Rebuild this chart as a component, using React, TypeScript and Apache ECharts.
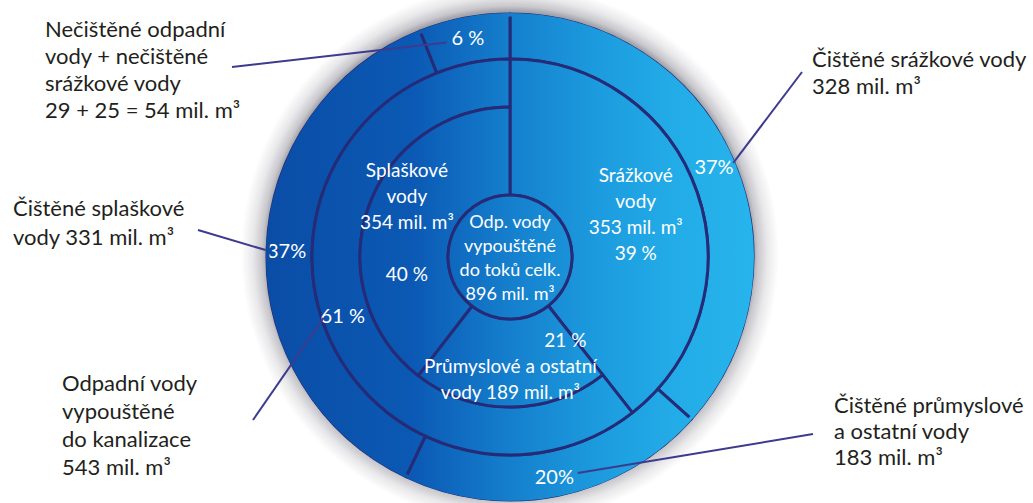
import React, { useEffect, useRef } from "react";
import * as echarts from "echarts";

// ---------------- data ----------------
const totalLabel = ["Odp. vody", "vypouštěné", "do toků celk."];
const totalValue = 896;

const innerNames = ["Srážkové vody", "Průmyslové a ostatní vody", "Splaškové vody"];
const innerValues = [353, 189, 354];
const innerPercents = ["39 %", "21 %", "40 %"];

const sewerName = "Odpadní vody vypouštěné do kanalizace";
const sewerValue = 543;
const sewerPercent = "61 %";

const outerNames = [
  "Čištěné srážkové vody",
  "Čištěné průmyslové a ostatní vody",
  "Čištěné splaškové vody",
  "Nečištěné odpadní vody + nečištěné srážkové vody",
];
const outerValues = [328, 183, 331, 54];
const outerPercents = ["37%", "20%", "37%", "6 %"];

const calloutTexts = [
  "Nečištěné odpadní\nvody + nečištěné\nsrážkové vody\n29 + 25 = 54 mil. m³",
  "Čištěné splaškové\nvody 331 mil. m³",
  "Odpadní vody\nvypouštěné\ndo kanalizace\n543 mil. m³",
  "Čištěné srážkové vody\n328 mil. m³",
  "Čištěné průmyslové\na ostatní vody\n183 mil. m³",
];

// ---------------- layout ----------------
const W = 1033;
const H = 503;
const CX = 510;
const CY = 257;
const R0 = 62;
const R1 = 150;
const R2 = 198;
const R3 = 243;
const NAVY = "#262b78";
const LEADER = "#3d3b8e";
const FONT = "Lato, 'Open Sans', sans-serif";

function midAngle(values: number[], i: number, total: number) {
  let cum = 0;
  for (let k = 0; k < i; k++) cum += values[k];
  return ((cum + values[i] / 2) / total) * 360;
}
function polar(angleDeg: number, r: number) {
  const a = (angleDeg * Math.PI) / 180;
  return [CX + r * Math.sin(a), CY - r * Math.cos(a)];
}

export default function App() {
  const ref = useRef<HTMLDivElement>(null);
  useEffect(() => {
    document.body.style.margin = "0";
    const chart = echarts.init(ref.current!, null, { renderer: "svg" });
    const fill = new echarts.graphic.LinearGradient(
      CX - R3,
      0,
      CX + R3,
      0,
      [
        { offset: 0, color: "#0a4da6" },
        { offset: 0.3, color: "#0b59b4" },
        { offset: 0.5, color: "#157fcd" },
        { offset: 0.68, color: "#1c9bde" },
        { offset: 0.85, color: "#23ade8" },
        { offset: 1, color: "#27b3eb" },
      ],
      true
    );
    const hidden = {
      itemStyle: { color: "transparent", borderWidth: 0 },
      label: { show: false },
    };
    const base = {
      type: "pie",
      center: [CX, CY],
      startAngle: 90,
      clockwise: true,
      avoidLabelOverlap: false,
      silent: true,
      emphasis: { disabled: true },
      labelLine: { show: false },
      animation: false,
    };
    const whiteLabel = {
      show: true,
      position: "inside",
      color: "#ffffff",
      fontFamily: FONT,
      fontSize: 19,
      lineHeight: 26,
      overflow: "none",
    };
    const lineBorder = { color: fill, borderColor: NAVY, borderWidth: 3 };

    const outerTotal = outerValues.reduce((a, b) => a + b, 0);
    const innerTotal = innerValues.reduce((a, b) => a + b, 0);

    // label anchor points for leader lines (computed from the data)
    const pNecist = polar(midAngle(outerValues, 3, outerTotal), (R2 + R3) / 2);
    const pSplas = polar(midAngle(outerValues, 2, outerTotal), (R2 + R3) / 2);
    const pSraz = polar(midAngle(outerValues, 0, outerTotal), (R2 + R3) / 2);
    const pPrum = polar(midAngle(outerValues, 1, outerTotal), (R2 + R3) / 2);
    const pSewer = polar(
      midAngle([innerValues[0], sewerValue], 1, innerTotal),
      (R1 + R2) / 2
    );

    const textStyle = (text: string, lh: number) => ({
      text,
      fill: "#231f20",
      font: `22px ${FONT}`,
      lineHeight: lh,
      verticalAlign: "top",
      align: "left",
    });
    const leader = (x1: number, y1: number, x2: number, y2: number) => ({
      type: "line",
      z: 100,
      shape: { x1, y1, x2, y2 },
      style: { stroke: LEADER, lineWidth: 2 },
      silent: true,
    });

    chart.setOption({
      animation: false,
      series: [
        // background disk
        {
          ...base,
          radius: [0, R3 + 1],
          z: 2,
          data: [{ value: 1, itemStyle: { color: fill, borderWidth: 0 } }],
          label: { show: false },
        },
        // outer ring
        {
          ...base,
          radius: [R2, R3],
          z: 3,
          itemStyle: lineBorder,
          data: outerValues.map((v, i) => ({ name: outerNames[i], value: v })),
          label: { ...whiteLabel, fontSize: 20, formatter: (p: any) => outerPercents[p.dataIndex] },
        },
        // cover of the outer rim (no dark outline on the outside)
        {
          ...base,
          radius: [R3 - 2.5, R3 + 1],
          z: 4,
          data: [{ value: 1, itemStyle: { color: fill, borderWidth: 0 } }],
          label: { show: false },
        },
        // rain water spans inner + middle ring
        {
          ...base,
          radius: [R0, R2],
          z: 5,
          itemStyle: lineBorder,
          data: [
            { name: innerNames[0], value: innerValues[0] },
            { name: "", value: sewerValue, ...hidden },
          ],
          label: {
            ...whiteLabel,
            formatter: () => `Srážkové\nvody\n${innerValues[0]} mil. m³\n${innerPercents[0]}`,
          },
        },
        // middle ring: sewer
        {
          ...base,
          radius: [R1, R2],
          z: 6,
          itemStyle: lineBorder,
          data: [
            { name: "", value: innerValues[0], ...hidden },
            { name: sewerName, value: sewerValue },
          ],
          label: { ...whiteLabel, fontSize: 20, formatter: () => sewerPercent },
        },
        // inner ring
        {
          ...base,
          radius: [R0, R1],
          z: 7,
          itemStyle: lineBorder,
          data: [
            { name: "", value: innerValues[0], ...hidden },
            { name: innerNames[1], value: innerValues[1] },
            { name: innerNames[2], value: innerValues[2] },
          ],
          label: {
            ...whiteLabel,
            formatter: (p: any) =>
              p.dataIndex === 1
                ? `{pct|${innerPercents[1]}}\nPrůmyslové a ostatní\nvody ${innerValues[1]} mil. m³`
                : `Splaškové\nvody\n${innerValues[2]} mil. m³\n\n${innerPercents[2]}`,
            rich: {
              pct: {
                color: "#ffffff",
                fontFamily: FONT,
                fontSize: 19,
                lineHeight: 26,
                padding: [0, 0, 0, 110],
              },
            },
          },
        },
        // centre
        {
          ...base,
          radius: [0, R0],
          z: 8,
          itemStyle: lineBorder,
          data: [{ name: "total", value: totalValue }],
          label: {
            ...whiteLabel,
            position: "center",
            fontSize: 18,
            lineHeight: 24,
            formatter: () => `${totalLabel.join("\n")}\n${totalValue} mil. m³`,
          },
        },
      ],
      graphic: [
        { type: "text", x: 45, y: 15, z: 100, style: textStyle(calloutTexts[0], 27) },
        { type: "text", x: 13, y: 193, z: 100, style: textStyle(calloutTexts[1], 29) },
        { type: "text", x: 62, y: 368, z: 100, style: textStyle(calloutTexts[2], 28) },
        { type: "text", x: 812, y: 45, z: 100, style: textStyle(calloutTexts[3], 27) },
        { type: "text", x: 834, y: 391, z: 100, style: textStyle(calloutTexts[4], 26) },
        leader(232, 67, pNecist[0] - 22, pNecist[1] + 2),
        leader(198, 230, pSplas[0] - 24, pSplas[1]),
        leader(253, 420, pSewer[0] - 22, pSewer[1] + 4),
        leader(802, 72, pSraz[0] + 22, pSraz[1] - 4),
        leader(813, 434, pPrum[0] + 24, pPrum[1]),
      ],
    });
    return () => chart.dispose();
  }, []);
  // soft grey halo behind the disk, painted as the container's background
  const haloBg = `radial-gradient(circle at ${CX}px ${CY - 3}px, #a4a4ac 0px, #a4a4ac ${R3}px, #c8c8cd ${R3 + 5}px, #e8e8ea ${R3 + 14}px, #ffffff ${R3 + 26}px)`;
  return <div ref={ref} style={{ width: W, height: H, background: haloBg }} />;
}
